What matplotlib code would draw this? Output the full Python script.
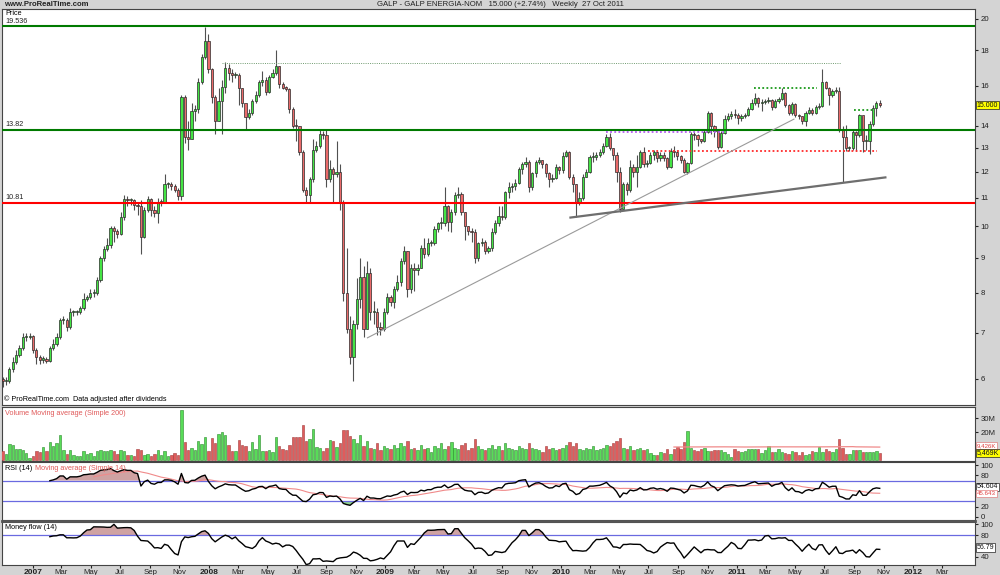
import numpy as np
import pandas as pd
import matplotlib
matplotlib.use('Agg')
import matplotlib.pyplot as plt
import matplotlib.dates as mdates
from matplotlib.ticker import NullLocator

# GALP weekly candles, end of Oct 2006 -> 27 Oct 2011
first_week = '2006-10-30'
first_open = 6.0

closes = [
    5.95, 5.95, 6.2, 6.35, 6.5, 6.66, 6.9, 6.9, 6.92, 6.6,
    6.45, 6.4, 6.4, 6.38, 6.66, 6.75, 6.9, 7.3, 7.3, 7.15,
    7.5, 7.5, 7.5, 7.6, 7.85, 7.9, 8.0, 8.0, 8.35, 9.0,
    9.27, 9.4, 9.94, 9.83, 9.75, 10.3, 10.95, 10.9, 10.9, 10.75,
    10.7, 9.66, 10.55, 10.95, 10.55, 10.45, 10.85, 10.85, 11.5, 11.5,
    11.45, 11.3, 11.05, 15.4, 13.5, 13.4, 14.7, 14.8, 16.2, 17.6,
    18.6, 16.9, 15.4, 14.2, 15.2, 15.95, 17.0, 16.7, 16.6, 16.6,
    15.9, 15.1, 14.4, 14.6, 15.2, 15.5, 16.2, 16.3, 15.65, 16.5,
    16.7, 17.1, 16.1, 15.9, 15.85, 14.8, 14.0, 13.97, 12.8, 11.3,
    11.1, 11.7, 12.9, 13.1, 13.6, 13.55, 11.7, 12.1, 11.9, 12.0,
    10.8, 8.0, 7.1, 6.45, 7.2, 7.85, 8.45, 7.1, 8.55, 7.5,
    7.5, 7.15, 7.1, 7.5, 7.9, 7.75, 8.1, 8.3, 8.9, 9.2,
    8.1, 8.7, 8.65, 8.7, 9.3, 9.1, 9.45, 9.45, 9.9, 10.1,
    10.1, 10.7, 10.15, 10.5, 11.1, 11.15, 10.5, 10.0, 9.85, 9.8,
    9.0, 9.45, 9.5, 9.2, 9.3, 9.8, 10.1, 10.35, 10.3, 11.2,
    11.4, 11.45, 11.55, 12.1, 12.3, 12.4, 11.4, 11.95, 12.4, 12.5,
    12.3, 11.95, 11.7, 11.75, 12.2, 12.05, 12.65, 12.8, 11.8, 11.5,
    10.8, 11.0, 11.8, 12.0, 12.6, 12.6, 12.7, 12.8, 13.1, 13.5,
    13.0, 12.7, 12.0, 10.6, 11.5, 11.3, 12.2, 12.0, 12.2, 12.8,
    12.3, 12.35, 12.7, 12.8, 12.55, 12.7, 12.55, 12.2, 12.85, 12.8,
    12.65, 12.5, 12.0, 12.35, 13.6, 13.55, 13.4, 13.3, 13.7, 14.6,
    14.0, 13.75, 13.05, 13.65, 14.3, 14.45, 14.55, 14.5, 14.35, 14.45,
    14.5, 14.8, 15.1, 15.35, 15.1, 15.15, 15.2, 15.25, 14.9, 15.2,
    15.3, 15.6, 15.0, 14.6, 15.05, 14.5, 14.45, 14.2, 14.6, 14.75,
    14.6, 14.9, 14.95, 16.2, 15.9, 15.5, 15.7, 15.7, 13.8, 13.5,
    13.0, 13.0, 13.7, 13.55, 14.5, 13.3, 13.3, 14.1, 14.85, 15.1, 15.0,
]

highs = [
    6.05, 6.05, 6.25, 6.45, 6.6, 6.72, 7.0, 7.0, 7.0, 6.95,
    6.65, 6.5, 6.48, 6.45, 6.7, 6.85, 7.0, 7.35, 7.4, 7.35,
    7.6, 7.55, 7.56, 7.65, 8.0, 7.95, 8.1, 8.1, 8.45, 9.05,
    9.35, 9.6, 10.0, 10.0, 9.9, 10.5, 11.1, 11.05, 11.0, 10.95,
    10.85, 10.9, 10.65, 11.05, 11.0, 10.7, 11.0, 10.95, 11.9, 11.6,
    11.6, 11.5, 11.35, 15.5, 15.5, 14.2, 15.1, 15.0, 16.4, 17.8,
    19.5, 19.0, 17.0, 15.5, 15.9, 16.3, 17.3, 17.2, 16.9, 16.75,
    16.7, 15.9, 15.0, 14.8, 15.3, 15.7, 16.3, 16.8, 16.5, 16.6,
    16.9, 18.0, 17.1, 16.2, 16.0, 15.9, 14.9, 14.3, 14.0, 12.9,
    11.4, 11.8, 13.4, 13.3, 13.85, 13.75, 13.85, 12.5, 12.2, 13.3,
    12.3, 10.9, 9.3, 7.4, 7.3, 8.4, 9.0, 8.75, 8.9, 8.7,
    7.8, 7.6, 7.25, 7.6, 8.0, 7.95, 8.2, 8.5, 9.0, 9.35,
    9.2, 8.8, 8.85, 8.8, 9.4, 9.6, 9.6, 9.55, 10.0, 10.15,
    10.3, 11.4, 10.75, 10.6, 11.2, 11.4, 11.2, 10.5, 10.0, 9.95,
    9.9, 9.5, 9.6, 9.55, 9.35, 9.95, 10.2, 10.7, 10.7, 11.25,
    11.6, 11.55, 11.7, 12.2, 12.4, 12.6, 12.5, 12.0, 12.5, 12.6,
    12.5, 12.35, 12.0, 11.9, 12.3, 12.25, 12.8, 12.9, 12.85, 11.9,
    11.5, 11.2, 11.9, 12.1, 12.7, 12.8, 12.8, 12.95, 13.2, 13.6,
    13.65, 13.0, 12.8, 12.2, 11.6, 11.6, 12.5, 12.3, 12.7, 12.9,
    13.05, 12.5, 12.8, 12.9, 12.85, 12.8, 12.8, 12.6, 13.0, 13.1,
    12.9, 12.7, 12.55, 12.4, 13.7, 13.7, 13.6, 13.4, 13.8, 14.7,
    14.65, 14.05, 13.8, 13.75, 14.5, 14.6, 14.7, 14.8, 14.6, 14.55,
    14.6, 14.9, 15.3, 15.6, 15.4, 15.3, 15.3, 15.4, 15.3, 15.3,
    15.4, 15.9, 15.65, 15.05, 15.15, 15.1, 14.55, 14.45, 14.7, 14.9,
    14.85, 15.0, 15.1, 16.9, 16.25, 15.95, 15.8, 15.95, 15.95, 14.0,
    14.05, 13.1, 13.85, 13.75, 14.55, 14.4, 13.55, 14.2, 15.0, 15.2, 15.25,
]

lows = [
    5.85, 5.88, 5.92, 6.15, 6.3, 6.45, 6.6, 6.82, 6.85, 6.55,
    6.3, 6.3, 6.32, 6.32, 6.35, 6.6, 6.7, 6.85, 7.2, 7.05,
    7.1, 7.4, 7.42, 7.45, 7.55, 7.8, 7.85, 7.9, 7.95, 8.3,
    8.9, 9.2, 9.3, 9.5, 9.6, 9.7, 10.2, 10.7, 10.75, 10.55,
    10.4, 9.1, 9.6, 10.5, 10.35, 10.3, 10.1, 10.7, 10.8, 11.35,
    11.3, 11.2, 10.9, 10.9, 13.2, 12.9, 13.4, 14.2, 14.6, 16.1,
    17.5, 16.7, 15.1, 13.6, 14.2, 13.6, 15.6, 16.3, 16.2, 16.4,
    15.0, 14.9, 13.8, 14.3, 14.5, 15.1, 15.4, 16.0, 15.5, 15.6,
    16.4, 16.6, 15.9, 15.8, 15.7, 14.6, 13.9, 13.3, 12.7, 11.2,
    10.85, 10.85, 11.6, 12.8, 13.0, 13.4, 11.4, 11.6, 10.85, 11.8,
    10.55, 7.8, 7.0, 6.3, 5.95, 7.1, 7.6, 6.9, 7.1, 7.3,
    7.2, 6.95, 6.95, 7.05, 7.45, 7.65, 7.6, 8.05, 8.2, 8.8,
    7.9, 8.0, 8.05, 8.5, 8.7, 9.0, 9.05, 9.35, 9.4, 9.8,
    9.9, 10.0, 9.85, 9.8, 10.4, 11.0, 10.4, 9.55, 9.7, 9.5,
    8.85, 8.9, 9.35, 9.1, 9.15, 9.2, 9.75, 10.0, 10.2, 10.25,
    11.0, 11.2, 11.3, 11.5, 11.9, 12.2, 11.2, 11.3, 11.8, 12.3,
    12.15, 11.8, 11.4, 11.6, 11.7, 11.9, 11.95, 12.6, 11.7, 11.2,
    10.3, 10.75, 10.9, 11.8, 11.95, 12.4, 12.5, 12.6, 12.75, 13.05,
    12.9, 12.5, 11.6, 10.5, 10.6, 11.1, 11.2, 11.8, 11.4, 12.15,
    12.2, 12.2, 12.3, 12.5, 12.4, 12.45, 12.45, 12.1, 12.15, 12.6,
    12.5, 12.35, 11.95, 11.9, 12.3, 13.35, 13.1, 13.2, 13.25, 13.65,
    13.6, 13.5, 12.95, 13.0, 13.6, 14.2, 14.3, 14.35, 14.1, 14.2,
    14.35, 14.45, 14.75, 15.0, 14.9, 14.7, 15.05, 15.1, 14.75, 14.85,
    15.1, 15.25, 14.9, 14.5, 14.5, 14.4, 14.3, 14.1, 14.0, 14.55,
    14.5, 14.55, 14.8, 14.9, 15.8, 15.0, 15.4, 15.6, 13.7, 11.6,
    12.85, 12.85, 12.9, 12.85, 13.5, 12.8, 12.9, 12.75, 14.0, 14.45, 14.9,
]

# weekly volume, millions of shares
volumes = [
    6.9, 4.8, 11.9, 11.2, 8.1, 8.1, 7.6, 5.2, 1.9, 2.9,
    6.4, 5.7, 9.5, 6.4, 12.9, 10.0, 12.4, 17.9, 7.1, 4.8,
    7.1, 4.0, 2.9, 3.3, 6.9, 4.8, 5.2, 3.3, 6.4, 7.6,
    6.4, 6.4, 7.6, 6.9, 4.8, 7.6, 6.4, 4.0, 4.0, 3.3,
    8.1, 7.6, 4.0, 4.8, 3.3, 4.8, 7.6, 4.0, 6.4, 3.3,
    4.0, 5.2, 4.0, 36.2, 13.1, 7.1, 8.8, 7.1, 13.6, 11.7,
    16.7, 6.4, 16.0, 12.4, 19.0, 20.2, 18.3, 11.2, 6.9, 6.9,
    14.8, 11.2, 10.0, 6.4, 12.9, 8.3, 18.3, 6.9, 6.9, 7.6,
    5.7, 16.7, 10.0, 8.3, 7.1, 11.2, 16.7, 16.7, 16.7, 25.5,
    13.6, 15.2, 22.6, 9.3, 8.8, 6.4, 8.8, 14.8, 14.0, 9.5,
    12.4, 21.4, 21.9, 17.0, 15.0, 12.0, 18.0, 10.0, 14.0, 9.0,
    8.0, 12.0, 7.0, 10.0, 9.0, 8.0, 11.0, 9.0, 12.0, 10.0,
    14.0, 8.0, 9.0, 7.0, 11.0, 8.0, 9.0, 6.0, 10.0, 9.0,
    12.0, 8.0, 10.0, 13.0, 9.0, 8.0, 11.0, 12.0, 7.0, 9.0,
    15.0, 10.0, 8.0, 7.0, 9.0, 11.0, 8.0, 10.0, 7.0, 12.0,
    9.0, 8.0, 7.0, 10.0, 9.0, 8.0, 12.0, 9.0, 8.0, 7.0,
    6.0, 10.0, 8.0, 9.0, 7.0, 8.0, 9.0, 11.0, 13.0, 10.0,
    12.0, 8.0, 7.0, 9.0, 8.0, 10.0, 7.0, 8.0, 9.0, 11.0,
    10.0, 12.0, 14.0, 16.0, 9.0, 8.0, 10.0, 7.0, 8.0, 9.0,
    7.0, 8.0, 5.2, 4.0, 4.0, 6.0, 5.5, 8.3, 4.8, 8.3,
    9.5, 8.3, 12.9, 21.2, 8.8, 7.6, 6.9, 8.3, 8.8, 6.9,
    6.4, 7.6, 7.6, 7.6, 6.0, 4.8, 2.4, 8.3, 6.4, 6.0,
    6.9, 8.1, 8.3, 8.1, 8.3, 5.2, 7.1, 10.5, 6.0, 5.7,
    8.3, 6.0, 5.2, 4.8, 6.9, 6.0, 4.0, 6.0, 4.0, 4.8,
    6.4, 6.0, 9.5, 6.0, 8.3, 6.4, 6.0, 8.3, 15.2, 8.8,
    4.8, 4.8, 7.6, 7.6, 7.6, 6.0, 6.0, 6.0, 6.0, 6.9, 5.469,
]

# drawn levels and lines on the price panel
support_levels = [19.536, 13.82, 10.81]
support_labels = ['19.536', '13.82', '10.81']
support_colors = ['#007a00', '#007a00', '#ff0000']
# dotted lines: (start, end, price, colour, width)
dotted_lines = [
    ('2008-01-28', '2011-08-04', 17.26, '#6f9a6f', 0.7),
    ('2011-02-05', '2011-06-15', 15.90, '#1a9a1a', 1.3),
    ('2011-08-31', '2011-10-07', 14.73, '#1a9a1a', 1.3),
    ('2010-04-03', '2010-12-11', 13.70, '#b45cf0', 1.3),
    ('2010-07-01', '2011-10-19', 12.86, '#ff2a2a', 1.3),
]
# trend lines: (start, price, end, price, colour, width)
trend_lines = [
    ('2008-11-24', 6.88, '2011-04-30', 14.32, '#9a9a9a', 0.8),
    ('2010-01-18', 10.29, '2011-11-07', 11.78, '#6e6e6e', 1.6),
]

title = 'GALP - GALP ENERGIA-NOM   15.000 (+2.74%)   Weekly  27 Oct 2011'
price_ticks = [6, 7, 8, 9, 10, 11, 12, 13, 14, 16, 18, 20]
last_price_label = '15.000'
last_volume_label = '5,469K'
rsi_label = '54.604'
mfi_label = '56.79'

plt.rcParams['font.family'] = ['Liberation Sans', 'DejaVu Sans']

W, H = 1000, 575
BG = '#d4d4d4'
GREEN = '#44e444'
RED = '#ea6a6a'
FS = 5.6
BOX_FS = 5.0

fig = plt.figure(figsize=(W / 100, H / 100), dpi=100, facecolor=BG)


def px_axes(x0, y0, x1, y1):
    return fig.add_axes([x0 / W, 1 - y1 / H, (x1 - x0) / W, (y1 - y0) / H])


def fig_text(x, y, s, **kw):
    kw.setdefault('fontsize', FS)
    kw.setdefault('va', 'center')
    fig.text(x / W, 1 - y / H, s, **kw)


def value_box(ax, y, s, fc='white', ec='#222222', color='#111111', fs=BOX_FS):
    ax.text(1.002, y, s, transform=ax.get_yaxis_transform(), fontsize=fs, va='center', ha='left',
            color=color, clip_on=False,
            bbox=dict(boxstyle='square,pad=0.12', fc=fc, ec=ec, lw=0.5))


ax_p = px_axes(2, 9, 975, 405)
ax_v = px_axes(2, 407, 975, 461)
ax_r = px_axes(2, 462, 975, 520)
ax_m = px_axes(2, 522, 975, 565)
axes = [ax_p, ax_v, ax_r, ax_m]

c = np.array(closes)
h = np.array(highs)
l = np.array(lows)
v = np.array(volumes)
o = np.r_[first_open, c[:-1]]
n = len(c)
dates = pd.date_range(first_week, periods=n, freq='7D')
x = mdates.date2num(dates)
up = c >= o

x_left = mdates.date2num(pd.Timestamp('2007-01-01')) - 64.3
x_right = mdates.date2num(pd.Timestamp('2012-01-01')) + 128.7

for ax in axes:
    ax.set_facecolor('white')
    ax.set_xlim(x_left, x_right)
    ax.xaxis.set_major_locator(NullLocator())
    ax.yaxis.tick_right()
    ax.tick_params(axis='y', labelsize=FS, length=2, pad=2, colors='#222222')
    for s in ax.spines.values():
        s.set_color('#444444')
        s.set_linewidth(0.8)

# ---- price panel
ax_p.set_yscale('log')
ax_p.set_ylim(5.50, 20.68)
ax_p.yaxis.set_minor_locator(NullLocator())
ax_p.set_yticks(price_ticks)
ax_p.set_yticklabels([str(t) for t in price_ticks])

ax_p.vlines(x, l, h, color='#505050', lw=0.8, zorder=2)
body_low = np.minimum(o, c)
body_h = np.maximum(np.abs(c - o), 0.004 * c)
ax_p.bar(x, body_h, bottom=body_low, width=4.6, color=np.where(up, GREEN, RED),
         edgecolor='#2a2a2a', lw=0.5, zorder=3)

yax = ax_p.get_yaxis_transform()
for lev, lab, col in zip(support_levels, support_labels, support_colors):
    ax_p.axhline(lev, color=col, lw=1.5, zorder=4)
    ax_p.text(0.003, lev * 1.005, lab, transform=yax, fontsize=FS - 0.4, va='bottom', color='#222222')

for d0, d1, lev, col, lw in dotted_lines:
    ax_p.hlines(lev, mdates.date2num(pd.Timestamp(d0)), mdates.date2num(pd.Timestamp(d1)),
                colors=col, lw=lw, linestyles=(0, (1, 1.3)), zorder=4)

for d0, p0, d1, p1, col, lw in trend_lines:
    ax_p.plot([mdates.date2num(pd.Timestamp(d0)), mdates.date2num(pd.Timestamp(d1))], [p0, p1],
              color=col, lw=lw, zorder=4, solid_capstyle='butt')

value_box(ax_p, c[-1], last_price_label, fc='#ffff00')
ax_p.text(0.003, 0.997, 'Price', transform=ax_p.transAxes, fontsize=FS - 0.4, va='top')
ax_p.text(0.002, 0.004, '\u00a9 ProRealTime.com  Data adjusted after dividends', transform=ax_p.transAxes,
          fontsize=FS - 0.4, va='bottom')

# ---- volume panel
ax_v.set_ylim(-0.5, 38)
ax_v.bar(x, v, width=5.0, color=np.where(up, '#58dc58', '#e05c5c'),
         edgecolor=np.where(up, '#2a8a2a', '#a03a3a'), lw=0.4, zorder=3)
vol_ma = pd.Series(v).rolling(200).mean().values
ax_v.plot(x, vol_ma, color='#f08a8a', lw=0.9, zorder=4)
ax_v.set_yticks([20, 30])
ax_v.set_yticklabels(['20M', '30M'])
value_box(ax_v, 10.6, f'{vol_ma[-1] * 1000:,.0f}K', ec='#e08080', color='#e04040', fs=BOX_FS - 0.6)
value_box(ax_v, 5.3, last_volume_label, fc='#ffff00')
ax_v.text(0.003, 0.95, 'Volume Moving average (Simple 200)', transform=ax_v.transAxes,
          fontsize=FS - 0.4, va='top', color='#e05a5a')

# ---- RSI(14), Wilder smoothing
diff = np.diff(c)
gain = np.clip(diff, 0, None)
loss = np.clip(-diff, 0, None)
rsi = np.full(n, np.nan)
ag, al = gain[:14].mean(), loss[:14].mean()
rsi[14] = 100 - 100 / (1 + ag / al)
for i in range(15, n):
    ag = (ag * 13 + gain[i - 1]) / 14
    al = (al * 13 + loss[i - 1]) / 14
    rsi[i] = 100 - 100 / (1 + ag / al)
rsi_ma = pd.Series(rsi).rolling(14).mean().values

ax_r.set_ylim(-5.8, 105.8)
ax_r.axhline(70, color='#6a6ae0', lw=0.9)
ax_r.axhline(30, color='#6a6ae0', lw=0.9)
ax_r.fill_between(x, rsi, 70, where=rsi > 70, interpolate=True, color='#cfa2a2', lw=0)
ax_r.fill_between(x, rsi, 30, where=rsi < 30, interpolate=True, color='#8fd08f', lw=0)
ax_r.plot(x, rsi_ma, color='#f08a8a', lw=0.8)
ax_r.plot(x, rsi, color='black', lw=1.0)
ax_r.set_yticks([0, 20, 80, 100])
value_box(ax_r, 58.0, rsi_label)
value_box(ax_r, 45.5, f'{rsi_ma[-1]:.3f}', ec='#e08080', color='#e04040', fs=BOX_FS - 0.6)
t_rsi = ax_r.text(0.003, 0.95, 'RSI (14)', transform=ax_r.transAxes, fontsize=FS - 0.4, va='top')
ax_r.annotate('Moving average (Simple 14)', xy=(1, 0), xycoords=t_rsi, xytext=(2, 0),
              textcoords='offset points', fontsize=FS - 0.4, va='bottom', color='#e05a5a')

# ---- Money flow (14)
tp = (h + l + c) / 3
raw = tp * v
prev_tp = np.r_[np.nan, tp[:-1]]
pos = pd.Series(np.where(tp > prev_tp, raw, 0.0)).rolling(14).sum().values
neg = pd.Series(np.where(tp < prev_tp, raw, 0.0)).rolling(14).sum().values
mfi = 100 - 100 / (1 + pos / neg)
mfi[:14] = np.nan

ax_m.set_ylim(24.6, 104.3)
ax_m.axhline(80, color='#6a6ae0', lw=0.9)
ax_m.fill_between(x, mfi, 80, where=mfi > 80, interpolate=True, color='#cfa2a2', lw=0)
ax_m.plot(x, mfi, color='black', lw=1.0)
ax_m.set_yticks([40, 80, 100])
value_box(ax_m, 56.79, mfi_label)
ax_m.text(0.003, 0.95, 'Money flow (14)', transform=ax_m.transAxes, fontsize=FS - 0.4, va='top')

# ---- time axis labels under the last panel
tick_dates = pd.date_range('2007-01-01', '2012-03-01', freq='2MS')
ax_m.set_xticks(mdates.date2num(tick_dates))
ax_m.set_xticklabels([str(d.year) if d.month == 1 else d.strftime('%b') for d in tick_dates])
ax_m.tick_params(axis='x', labelsize=FS, length=2, pad=1.2, colors='#222222')
for lab, d in zip(ax_m.get_xticklabels(), tick_dates):
    if d.month == 1:
        lab.set_fontweight('bold')
        lab.set_fontsize(FS + 0.4)

# thick separator between RSI and money flow
fig.add_artist(plt.Line2D([2 / W, 975 / W], [1 - 521 / H, 1 - 521 / H], color='#555555', lw=2))

fig_text(4, 5, 'www.ProRealTime.com', ha='left', fontweight='bold', color='#222222')
fig_text(500, 5, title, ha='center', color='#222222')

fig.savefig('out.png', dpi=100, facecolor=BG)
